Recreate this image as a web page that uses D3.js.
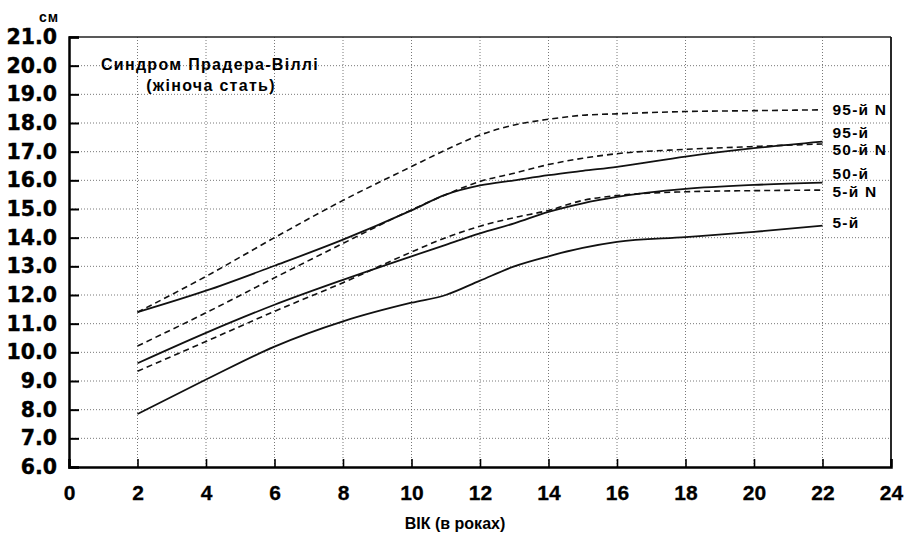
<!DOCTYPE html>
<html>
<head>
<meta charset="utf-8">
<script src="https://cdn.jsdelivr.net/npm/d3@7"></script>
<style>
  body { margin: 0; background: #fff; }
  svg { display: block; }
</style>
</head>
<body>
<div id="chart"></div>
<script>
// ages in years, head circumference in cm
const ages = [2, 4, 6, 8, 10, 11, 12, 13, 14, 15, 16, 18, 20, 22];
const pws5 = [7.85, 9.05, 10.2, 11.08, 11.73, 12.0, 12.5, 13.0, 13.35, 13.64, 13.85, 14.02, 14.2, 14.42];
const pws50 = [9.62, 10.68, 11.66, 12.53, 13.35, 13.75, 14.15, 14.5, 14.9, 15.2, 15.42, 15.7, 15.84, 15.92];
const pws95 = [11.4, 12.15, 13.02, 13.93, 14.95, 15.5, 15.82, 16.0, 16.18, 16.33, 16.47, 16.83, 17.12, 17.35];
const norm5 = [9.34, 10.38, 11.43, 12.43, 13.5, 14.0, 14.4, 14.7, 14.95, 15.3, 15.47, 15.6, 15.64, 15.66];
const norm50 = [10.22, 11.38, 12.6, 13.8, 14.97, 15.5, 15.96, 16.25, 16.55, 16.77, 16.93, 17.08, 17.18, 17.27];
const norm95 = [11.4, 12.65, 14.0, 15.3, 16.48, 17.06, 17.58, 17.93, 18.13, 18.27, 18.32, 18.4, 18.43, 18.46];

const seriesNames = ["5-й", "50-й", "95-й", "5-й N", "50-й N", "95-й N"];
const seriesValues = [pws5, pws50, pws95, norm5, norm50, norm95];
const xTicks = d3.range(0, 25, 2);
const yTicks = d3.range(6, 22, 1);

const W = 910, H = 540;
const margin = { top: 37, right: 19, bottom: 73, left: 69 };
const width = W - margin.left - margin.right,
      height = H - margin.top - margin.bottom;

const svg = d3.select("#chart").append("svg")
  .attr("width", W).attr("height", H);
const g = svg.append("g")
  .attr("transform", `translate(${margin.left},${margin.top})`);

const x = d3.scaleLinear().domain([0, 24]).range([0, width]);
const y = d3.scaleLinear().domain([6, 21]).range([height, 0]);

// dotted grid
g.append("g").selectAll("line")
  .data(yTicks.filter(d => d > 6 && d < 21))
  .join("line")
  .attr("x1", 0).attr("x2", width)
  .attr("y1", d => y(d)).attr("y2", d => y(d))
  .attr("stroke", "#555").attr("stroke-width", 0.8)
  .attr("stroke-dasharray", "1,2");
g.append("g").selectAll("line")
  .data(xTicks.filter(d => d > 0 && d < 24))
  .join("line")
  .attr("x1", d => x(d)).attr("x2", d => x(d))
  .attr("y1", 0).attr("y2", height)
  .attr("stroke", "#555").attr("stroke-width", 0.8)
  .attr("stroke-dasharray", "1,2");

// frame
g.append("line").attr("x1", 0).attr("x2", width).attr("y1", 0).attr("y2", 0)
  .attr("stroke", "#222").attr("stroke-width", 1.3);
g.append("line").attr("x1", width).attr("x2", width).attr("y1", 0).attr("y2", height)
  .attr("stroke", "#111").attr("stroke-width", 1.8);

// axes with inward ticks
const yAxis = g.append("g")
  .call(d3.axisLeft(y).tickValues(yTicks).tickSize(-10).tickPadding(22).tickFormat(d3.format(".1f")));
yAxis.select(".domain").attr("stroke", "#000").attr("stroke-width", 2.5);
yAxis.selectAll(".tick line").attr("stroke", "#000").attr("stroke-width", 2);
yAxis.selectAll("text")
  .attr("font-family", "DejaVu Sans, sans-serif")
  .attr("font-weight", "bold").attr("font-size", 20.5).attr("fill", "#000")
  .attr("stroke", "#000").attr("stroke-width", 0.4)
  .attr("dx", 10);

const xAxis = g.append("g").attr("transform", `translate(0,${height})`)
  .call(d3.axisBottom(x).tickValues(xTicks).tickSize(-8).tickPadding(18).tickFormat(d3.format("d")));
xAxis.select(".domain").attr("stroke", "#000").attr("stroke-width", 2.5);
xAxis.selectAll(".tick line").attr("stroke", "#000").attr("stroke-width", 1.6);
xAxis.selectAll("text")
  .attr("font-family", "Liberation Sans, Arial, sans-serif")
  .attr("font-weight", "bold").attr("font-size", 21).attr("fill", "#000")
  .attr("stroke", "#000").attr("stroke-width", 0.3);

// curves
const line = d3.line()
  .x((d, i) => x(ages[i]))
  .y(d => y(d))
  .curve(d3.curveMonotoneX);

seriesValues.forEach((vals, k) => {
  g.append("path")
    .datum(vals)
    .attr("fill", "none")
    .attr("stroke", "#111")
    .attr("stroke-width", k < 3 ? 1.8 : 1.6)
    .attr("stroke-dasharray", k < 3 ? null : "6,4")
    .attr("d", line);
});

// end labels
const labelShift = [-3, -9, -9, 1, 6, 0];
seriesValues.forEach((vals, k) => {
  g.append("text")
    .attr("x", x(ages[ages.length - 1]) + 10)
    .attr("y", y(vals[vals.length - 1]) + labelShift[k])
    .attr("dy", "0.35em")
    .attr("font-family", "Liberation Sans, Arial, sans-serif")
    .attr("font-weight", "bold").attr("font-size", 15.5)
    .attr("letter-spacing", 1.2)
    .attr("fill", "#000")
    .text(seriesNames[k]);
});

// titles
const title = svg.append("g")
  .attr("font-family", "Liberation Sans, Arial, sans-serif")
  .attr("font-weight", "bold").attr("fill", "#000");
title.append("text").attr("x", 210).attr("y", 70).attr("text-anchor", "middle")
  .attr("font-size", 16).attr("letter-spacing", 1.3)
  .text("Синдром Прадера-Віллі");
title.append("text").attr("x", 211).attr("y", 91).attr("text-anchor", "middle")
  .attr("font-size", 16).attr("letter-spacing", 1.3)
  .text("(жіноча стать)");
title.append("text").attr("x", 49).attr("y", 22).attr("text-anchor", "middle")
  .attr("font-size", 14).attr("letter-spacing", 1)
  .text("см");
title.append("text").attr("x", 455).attr("y", 529).attr("text-anchor", "middle")
  .attr("font-family", "Liberation Sans Narrow, Liberation Sans, sans-serif")
  .attr("font-size", 16)
  .text("ВІК (в роках)");
</script>
</body>
</html>
